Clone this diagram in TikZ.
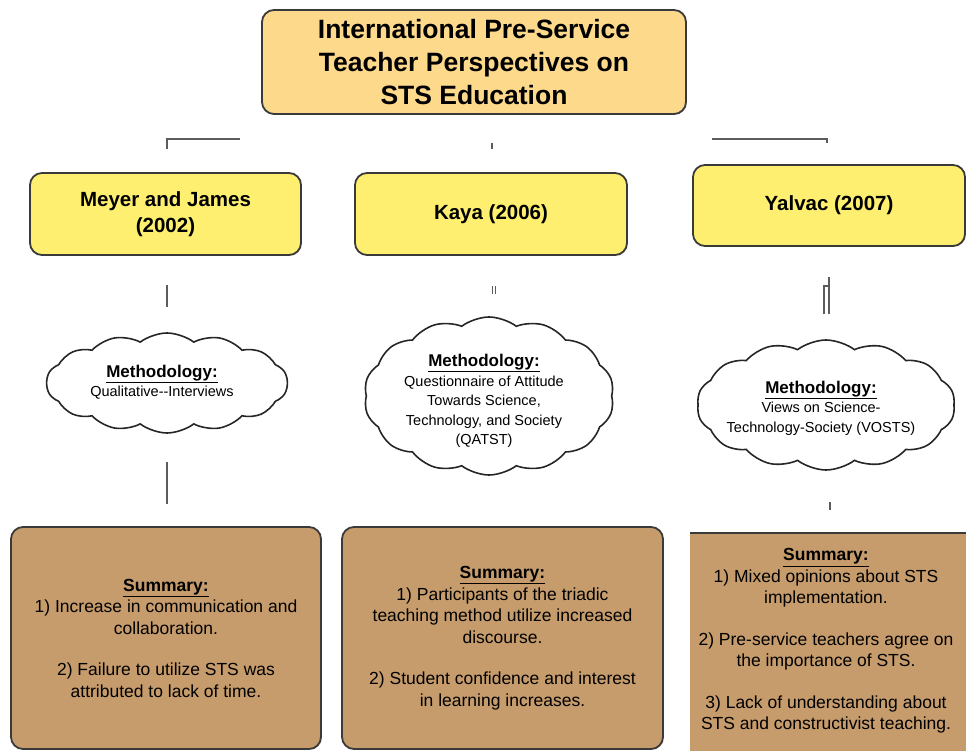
\documentclass[tikz,border=0pt]{standalone}
\usepackage{fontspec}
\setmainfont{Liberation Sans}
\usepackage{tikz}
\usetikzlibrary{shapes.symbols,shadows}
\definecolor{ink}{HTML}{3A3A3A}
\definecolor{titlefill}{HTML}{FDD98B}
\definecolor{yearfill}{HTML}{FEEF70}
\definecolor{sumfill}{HTML}{C69C6C}
\definecolor{stem}{HTML}{5C5C5C}
\tikzset{
  frame/.style={draw=ink, line width=1.8pt, rounded corners=12pt},
  soft/.style={drop shadow={shadow xshift=0.8pt, shadow yshift=-0.8pt, opacity=0.35}},
  titlebox/.style={frame, soft, fill=titlefill, minimum width=424pt, minimum height=104pt,
    align=center, font=\bfseries\fontsize{26.5}{33}\selectfont},
  yearbox/.style={frame, soft, fill=yearfill, minimum width=271pt, minimum height=82pt,
    align=center, font=\bfseries\fontsize{20.5}{26}\selectfont},
  methcloud/.style={cloud, draw=black!85, line width=1.6pt, fill=white, cloud puffs=14,
    cloud puff arc=75, cloud ignores aspect, inner sep=0pt},
  methtext/.style={align=center, font=\fontsize{14.5}{19.5}\selectfont},
  sumbox/.style={frame, soft, fill=sumfill, minimum width=310pt, minimum height=222pt,
    align=center, font=\fontsize{17.5}{21.5}\selectfont},
  sumtext/.style={align=center, font=\fontsize{17.5}{21.5}\selectfont},
  stemline/.style={draw=stem, line width=1.3pt},
}
\newcommand{\methhead}{{\fontsize{17}{20}\selectfont\bfseries\underline{Methodology:}}}
\newcommand{\sumhead}{{\bfseries\underline{Summary:}}}

\begin{document}
\begin{tikzpicture}[x=1pt, y=-1pt]
  \useasboundingbox (0,0) rectangle (966,751);

  % title and the three studies
  \node[titlebox] (title) at (474,62) {International Pre-Service\\Teacher Perspectives on\\STS Education};
  \node[yearbox] (meyer) at (165.5,214) {Meyer and James\\(2002)};
  \node[yearbox, minimum width=272pt] (kaya) at (491,214) {Kaya (2006)};
  \node[yearbox, minimum width=272pt, minimum height=81pt] (yalvac) at (829,205.5) {Yalvac (2007)};

  % methodology clouds
  \node[methcloud, minimum width=241pt, minimum height=100pt] (mthA) at (167,383) {};
  \node[methtext] (mthAtxt) at (162,382) {\methhead\\Qualitative-{}-Interviews};
  \node[methcloud, minimum width=250pt, minimum height=158pt] (mthB) at (489,396) {};
  \node[methtext] (mthBtxt) at (484,401) {\methhead\\Questionnaire of Attitude\\Towards Science,\\Technology, and Society\\(QATST)};
  \node[methcloud, minimum width=258pt, minimum height=130pt] (mthC) at (826,405) {};
  \node[methtext] (mthCtxt) at (821,408) {\methhead\\Views on Science-\\Technology-Society (VOSTS)};

  % summaries
  \node[sumbox] (sumA) at (166,638) {\sumhead\\1) Increase in communication and\\collaboration.\\[20pt]2) Failure to utilize STS was\\attributed to lack of time.};
  \node[sumbox, minimum width=321pt] (sumB) at (502.5,638) {\sumhead\\1) Participants of the triadic\\teaching method utilize increased\\discourse.\\[20pt]2) Student confidence and interest\\in learning increases.};
  \fill[sumfill] (690,533) rectangle (966,751);
  \draw[draw=ink, line width=1.8pt] (690,533) -- (966,533);
  \node[sumtext] (sumC) at (826,641) {\sumhead\\1) Mixed opinions about STS\\implementation.\\[20pt]2) Pre-service teachers agree on\\the importance of STS.\\[20pt]3) Lack of understanding about\\STS and constructivist teaching.};

  % broken connector pieces
  \coordinate (tA) at (240,139);
  \coordinate (tAc) at (167,139);
  \coordinate (tAe) at (167,149);
  \draw[stemline] (tA) -- (tAc) -- (tAe);
  \coordinate (tB) at (492,143);
  \coordinate (tBe) at (492,149);
  \draw[stemline] (tB) -- (tBe);
  \coordinate (tC) at (712,139);
  \coordinate (tCc) at (827,139);
  \coordinate (tCe) at (827,143);
  \draw[stemline] (tC) -- (tCc) -- (tCe);
  \coordinate (mA) at (167,285);
  \coordinate (mAe) at (167,307);
  \draw[stemline] (mA) -- (mAe);
  \coordinate (mB) at (492.5,286);
  \coordinate (mBe) at (492.5,294);
  \coordinate (mB2) at (495.5,286);
  \coordinate (mB2e) at (495.5,294);
  \draw[stemline, line width=1pt] (mB) -- (mBe) (mB2) -- (mB2e);
  \coordinate (mC) at (829,277);
  \coordinate (mCe) at (829,314);
  \coordinate (mC2) at (824,314);
  \coordinate (mC2c) at (824,286);
  \draw[stemline] (mC) -- (mCe);
  \draw[stemline] (mC2) -- (mC2c) -- (mC |- mC2c);
  \coordinate (bA) at (167,462);
  \coordinate (bAe) at (167,504);
  \draw[stemline] (bA) -- (bAe);
  \coordinate (bC) at (830,502);
  \coordinate (bCe) at (830,510);
  \draw[stemline] (bC) -- (bCe);
\end{tikzpicture}
\end{document}
